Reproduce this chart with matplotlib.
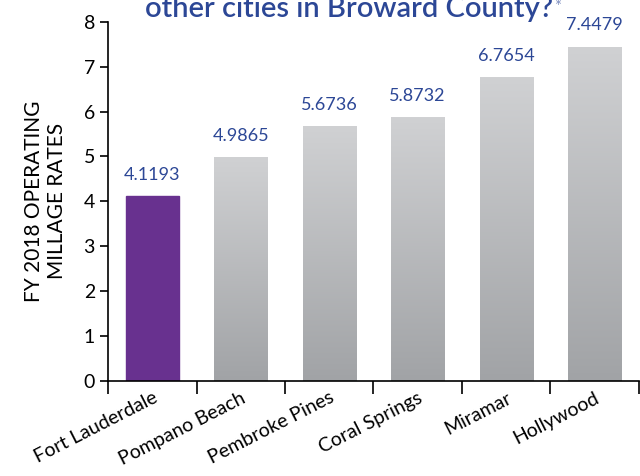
import numpy as np
import matplotlib.pyplot as plt
from matplotlib.colors import LinearSegmentedColormap

cities = ["Fort Lauderdale", "Pompano Beach", "Pembroke Pines",
          "Coral Springs", "Miramar", "Hollywood"]
rates = [4.1193, 4.9865, 5.6736, 5.8732, 6.7654, 7.4479]
rate_labels = ["4.1193", "4.9865", "5.6736", "5.8732", "6.7654", "7.4479"]

BLUE = "#2c4796"
PURPLE = "#68318f"

plt.rcParams["font.family"] = ["Lato", "DejaVu Sans"]

fig = plt.figure(figsize=(6.4, 4.76), dpi=100)
ax = fig.add_axes([0.169, 0.200, 0.829, 0.754])

x = np.arange(len(cities))
bars = ax.bar(x, rates, width=0.6, color="#b5b6b8", zorder=2)
bars[0].set_color(PURPLE)

ax.set_xlim(-0.5, len(cities) - 0.5)
ax.set_ylim(0, 8)

# vertical gray gradient on the comparison bars
gray = LinearSegmentedColormap.from_list("g", ["#a1a3a6", "#d0d1d3"])
grad = np.linspace(0, 1, 256).reshape(-1, 1)
for b in bars[1:]:
    bx, by = b.get_x(), b.get_y()
    w, h = b.get_width(), b.get_height()
    im = ax.imshow(grad, cmap=gray, origin="lower", aspect="auto",
                   extent=[bx, bx + w, by, by + h], zorder=2)
    im.set_clip_path(b)
    b.set_facecolor("none")

for xi, v, s in zip(x, rates, rate_labels):
    ax.text(xi, v + 0.3, s, ha="center", va="bottom",
            fontsize=13, color=BLUE)

ax.set_yticks(range(0, 9))
ax.tick_params(axis="y", labelsize=14, length=6, width=1.2, direction="out")
ax.set_xticks(np.arange(-0.5, len(cities), 1.0))
ax.set_xticklabels([])
ax.set_xticks(x, minor=True)
ax.set_xticklabels(cities, minor=True, rotation=27, ha="right",
                   rotation_mode="anchor", fontsize=14)
ax.tick_params(axis="x", which="major", length=9, width=1.2)
ax.tick_params(axis="x", which="minor", length=0, pad=6)

for side in ["top", "right"]:
    ax.spines[side].set_visible(False)
for side in ["left", "bottom"]:
    ax.spines[side].set_linewidth(1.2)

ax.set_ylabel("FY 2018 OPERATING\nMILLAGE RATES", fontsize=15, labelpad=12)

# headline's second line; the first line sits above the canvas
title = fig.text(0.545, 0.965, "other cities in Broward County?", ha="center",
                 va="baseline", fontsize=21, fontweight="semibold", color=BLUE)
fig.canvas.draw()
bb = title.get_window_extent().transformed(fig.transFigure.inverted())
fig.text(bb.x1 + 0.002, 0.985, "*", ha="left", va="center", fontsize=12,
         color="#8090c0")

fig.savefig("out.png", dpi=100)
